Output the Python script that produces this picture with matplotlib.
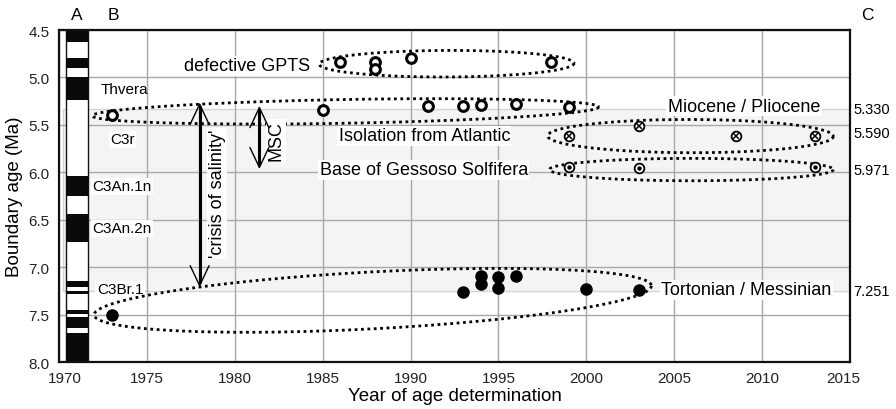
import numpy as np
import matplotlib
matplotlib.use("Agg")
import matplotlib.pyplot as plt
from matplotlib.patches import Rectangle, FancyArrowPatch
from matplotlib.transforms import ScaledTranslation

plt.rcParams['font.family'] = ['Liberation Sans', 'DejaVu Sans']

# ---- boundary-age determinations -------------------------------------------
gpts_years = [1986, 1988, 1988, 1990, 1998]
gpts_ages = [4.84, 4.84, 4.91, 4.80, 4.84]

mp_years = [1973, 1985, 1991, 1993, 1994, 1996, 1999]
mp_ages = [5.40, 5.34, 5.305, 5.305, 5.29, 5.28, 5.31]

iso_years = [1999, 2003, 2008.5, 2013]
iso_ages = [5.62, 5.515, 5.62, 5.62]

gess_years = [1999, 2003, 2013]
gess_ages = [5.94, 5.955, 5.94]

tm_years = [1973, 1993, 1994, 1994, 1995, 1995, 1996, 2000, 2003]
tm_ages = [7.50, 7.26, 7.09, 7.18, 7.10, 7.215, 7.09, 7.23, 7.24]

# Reference boundary ages (Ma)
boundary_labels = ["5.330", "5.590", "5.971", "7.251"]
boundary_values = [5.330, 5.590, 5.971, 7.251]
messinian_top, messinian_base = 5.330, 7.251

# Normal-polarity chrons (Ma), GPTS
normal_chrons = [(4.493, 4.631), (4.799, 4.896), (4.997, 5.235),
                 (6.033, 6.252), (6.436, 6.733), (7.140, 7.212),
                 (7.251, 7.285), (7.454, 7.489), (7.528, 7.642),
                 (7.695, 8.108)]
chron_names = ["Thvera", "C3r", "C3An.1n", "C3An.2n", "C3Br.1"]

x_ticks = list(range(1970, 2016, 5))
y_ticks = [4.5, 5.0, 5.5, 6.0, 6.5, 7.0, 7.5, 8.0]

# Group outlines: left end (x, y), right end (x, y), half height
group_outlines = [
    (1984.8, 4.86, 1999.3, 4.85, 0.14),
    (1971.9, 5.404, 2000.7, 5.31, 0.125),
    (1997.8, 5.615, 2014.05, 5.62, 0.175),
    (1997.9, 5.97, 2014.05, 5.97, 0.118),
    (1972.0, 7.50, 2003.7, 7.195, 0.30),
]

fig = plt.figure(figsize=(8.96, 4.10), dpi=100)
ax = fig.add_axes([59 / 896, (410 - 363.3) / 410, (850 - 59) / 896, (363.3 - 31) / 410])

ax.set_xlim(1970, 2015)
ax.set_ylim(8.0, 4.5)
ax.set_xticks(x_ticks)
ax.set_yticks(y_ticks)
ax.set_yticklabels([f"{v:.1f}" for v in y_ticks])
ax.tick_params(length=0, labelsize=11, colors='#222222')
ax.tick_params(axis='x', pad=6)
ax.tick_params(axis='y', pad=7)
ax.grid(True, color='#a8a8a8', lw=1.0)
ax.set_axisbelow(True)
for s in ax.spines.values():
    s.set_linewidth(1.6)
    s.set_color('#111111')

# nudge the end tick labels inward
xl = ax.get_xticklabels()
xl[0].set_transform(xl[0].get_transform() + ScaledTranslation(6 / 100, 0, fig.dpi_scale_trans))
xl[-1].set_transform(xl[-1].get_transform() + ScaledTranslation(-7 / 100, 0, fig.dpi_scale_trans))

ax.set_xlabel("Year of age determination", fontsize=13.5, labelpad=2)
ax.set_ylabel("Boundary age (Ma)", fontsize=13.5, labelpad=4)

# Messinian band
ax.add_patch(Rectangle((1970.25, messinian_top), 2015 - 1970.25, messinian_base - messinian_top,
                       facecolor='#f4f4f4', edgecolor='#d4d4d4', lw=1.0, zorder=0.2))

# polarity column
col_x0, col_x1 = 1970.4, 1971.64
ax.add_patch(Rectangle((col_x0, 4.5), col_x1 - col_x0, 3.5, facecolor='white',
                       edgecolor='#111111', lw=1.0, zorder=2))
for top, base in normal_chrons:
    t, b = max(top, 4.5), min(base, 8.0)
    ax.add_patch(Rectangle((col_x0, t), col_x1 - col_x0, b - t, facecolor='#0a0a0a',
                           edgecolor='none', zorder=2.1))

# chron labels
box = dict(facecolor='white', edgecolor='none', pad=1.0)
chron_pos = [(1972.35, 5.12, False), (1972.9, 5.65, True), (1971.92, 6.147, True),
             (1971.92, 6.59, True), (1972.15, 7.23, True)]
for name, (x, y, bg) in zip(chron_names, chron_pos):
    ax.text(x, y, name, fontsize=11, ha='left', va='center', zorder=3,
            bbox=box if bg else None)

# group outlines
t = np.linspace(0, 2 * np.pi, 400)
for x1, y1, x2, y2, b in group_outlines:
    cx, cy = (x1 + x2) / 2, (y1 + y2) / 2
    a = (x2 - x1) / 2
    slope = (y2 - y1) / (x2 - x1)
    ex = cx + a * np.cos(t)
    ey = cy + slope * (ex - cx) + b * np.sin(t)
    ax.plot(ex, ey, color='black', lw=2.0, linestyle=(0, (1, 1.3)), zorder=3)

# arrows
def double_arrow(x, y_top, y_bot):
    ax.add_patch(FancyArrowPatch((x, y_top), (x, y_bot),
                                 arrowstyle='<->,head_length=0.72,head_width=0.34',
                                 mutation_scale=20, lw=1.0, color='black',
                                 shrinkA=0, shrinkB=0, zorder=4))
    ax.plot([x, x], [y_top + 0.04, y_bot - 0.04], color='black', lw=2.2,
            solid_capstyle='butt', zorder=4)

double_arrow(1978.0, 5.265, 7.21)
double_arrow(1981.4, 5.30, 5.965)

ax.text(1979.0, 6.22, "'crisis of salinity'", rotation=90, fontsize=13,
        ha='center', va='center', bbox=box, zorder=3)
ax.text(1982.35, 5.66, "MSC", rotation=90, fontsize=13,
        ha='center', va='center', bbox=box, zorder=3)

# group labels
ax.text(1984.3, 4.878, "defective GPTS", fontsize=13, ha='right', va='center',
        bbox=box, zorder=3)
ax.text(1990.78, 5.615, "Isolation from Atlantic", fontsize=13, ha='center', va='center',
        bbox=box, zorder=3)
ax.text(1990.75, 5.973, "Base of Gessoso Solfifera", fontsize=13, ha='center', va='center',
        bbox=box, zorder=3)
ax.text(2008.97, 5.305, "Miocene / Pliocene", fontsize=13, ha='center', va='center',
        bbox=box, zorder=3)
ax.text(2009.1, 7.236, "Tortonian / Messinian", fontsize=13, ha='center', va='center',
        bbox=box, zorder=3)

# data markers
ax.plot(gpts_years, gpts_ages, 'o', ms=7, mfc='white', mec='black', mew=2.2, zorder=5)
ax.plot(mp_years, mp_ages, 'o', ms=7, mfc='white', mec='black', mew=2.2, zorder=5)
ax.plot(iso_years, iso_ages, 'o', ms=7, mfc='white', mec='black', mew=1.3, zorder=5)
ax.plot(iso_years, iso_ages, 'x', ms=4.2, mec='black', mew=1.1, zorder=6)
ax.plot(gess_years, gess_ages, 'o', ms=7, mfc='white', mec='black', mew=1.3, zorder=5)
ax.plot(gess_years, gess_ages, 'o', ms=3.2, mfc='black', mec='black', mew=0, zorder=6)
ax.plot(tm_years, tm_ages, 'o', ms=8, mfc='black', mec='black', zorder=5)

# right-hand boundary values
ytr = ax.get_yaxis_transform()
for lab, v in zip(boundary_labels, boundary_values):
    ax.text(1.004, v, lab, transform=ytr, fontsize=10.5, ha='left', va='center',
            clip_on=False)

# column letters
xtr = ax.get_xaxis_transform()
ax.text(1971.04, 1.048, "A", transform=xtr, fontsize=12.5, ha='center', va='center')
ax.text(1973.1, 1.048, "B", transform=xtr, fontsize=12.5, ha='center', va='center')
ax.text(1.0215, 1.048, "C", transform=ax.transAxes, fontsize=12.5, ha='center', va='center')

fig.savefig("out.png", dpi=100)
